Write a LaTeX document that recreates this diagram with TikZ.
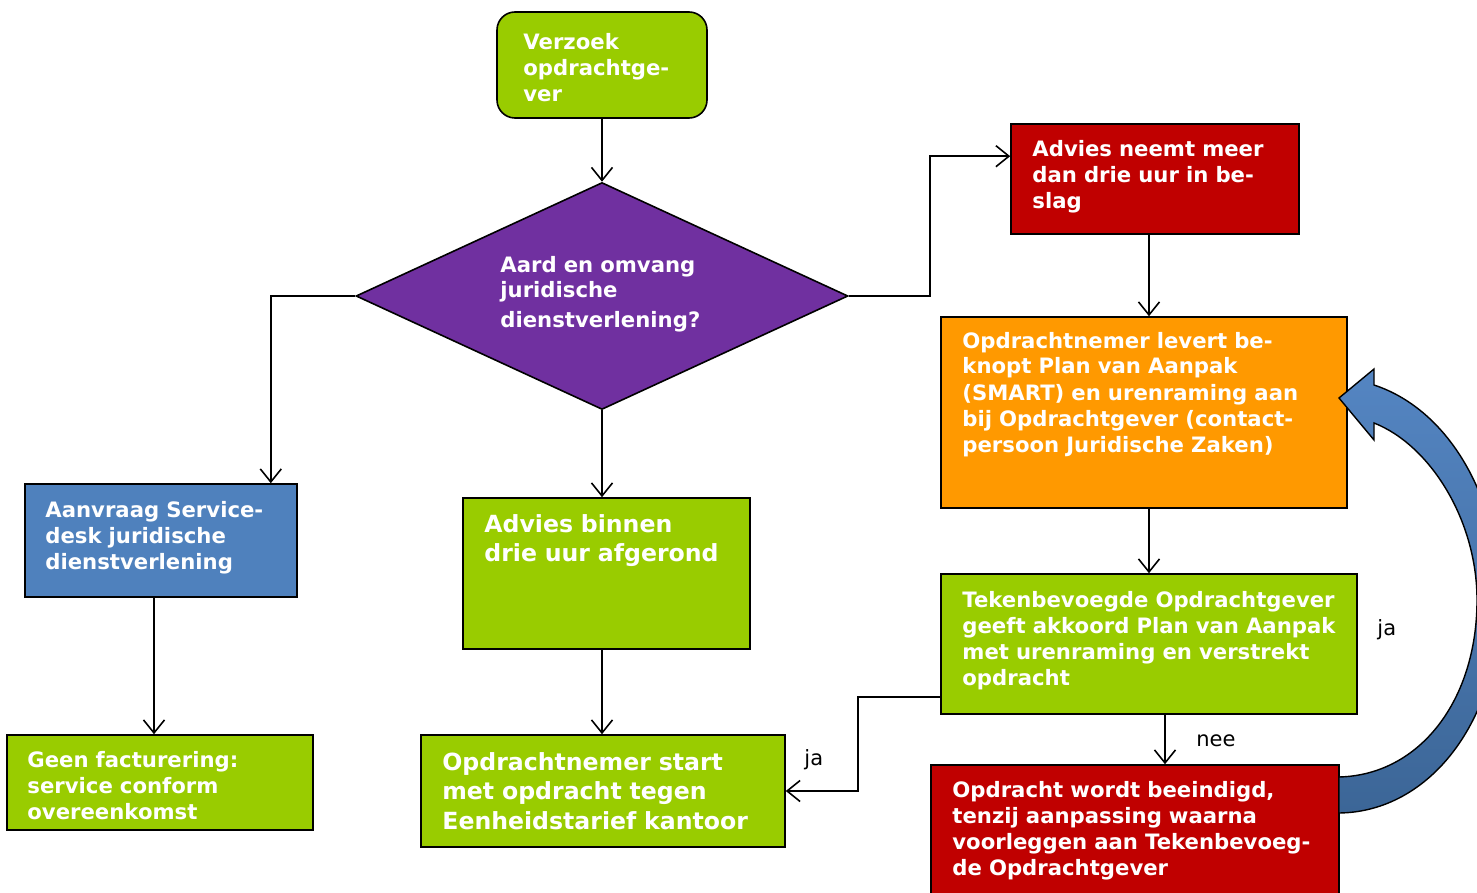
\documentclass[tikz,border=0pt]{standalone}
\usepackage{fontspec}
\setmainfont{DejaVu Sans}
\usetikzlibrary{arrows.meta,calc,fit,shapes.geometric}
\definecolor{cgreen}{HTML}{99CC00}
\definecolor{cpurple}{HTML}{7030A0}
\definecolor{cred}{HTML}{C00000}
\definecolor{corange}{HTML}{FF9900}
\definecolor{cblue}{HTML}{4F81BD}
\definecolor{cbluetop}{HTML}{5485C2}
\definecolor{cbluebot}{HTML}{3C6697}
\tikzset{
  box/.style={draw=black, line width=0.8pt, inner sep=0pt},
  txt/.style={text=white, font=\bfseries\fontsize{10.6}{13}\selectfont, align=left, inner sep=0pt, anchor=base west, text width=220pt},
  bigtxt/.style={txt, font=\bfseries\fontsize{11.8}{14.8}\selectfont},
  lbl/.style={font=\fontsize{10.5}{12}\selectfont, inner sep=0pt, anchor=base west},
  arr/.style={line width=0.8pt, -{Straight Barb[length=6.5pt,width=10.5pt,line width=0.8pt]}},
  ln/.style={line width=0.8pt}
}
\begin{document}
\begin{tikzpicture}[x=0.5pt,y=-0.5pt]
\clip (0,0) rectangle (1477,893);
\fill[white] (0,0) rectangle (1477,893);

% boxes
\node[box, fill=cgreen, rounded corners=9pt, fit={(497,12) (707,118)}] (verzoek) {};
\node[draw=black, line width=0.8pt, fill=cpurple, diamond, aspect=2.167, minimum width=246pt, minimum height=113.5pt, inner sep=0pt] (dia) at (602,296) {};
\node[box, fill=cred, fit={(1011,124) (1299,234)}] (meer) {};
\node[box, fill=corange, fit={(941,317) (1347,508)}] (plan) {};
\node[box, fill=cgreen, fit={(941,574) (1357,714)}] (teken) {};
\node[box, fill=cred, fit={(931,765) (1339,920)}] (stop) {};
\node[box, fill=cblue, fit={(25,484) (297,597)}] (aanvraag) {};
\node[box, fill=cgreen, fit={(7,735) (313,830)}] (geen) {};
\node[box, fill=cgreen, fit={(463,498) (750,649)}] (binnen) {};
\node[box, fill=cgreen, fit={(421,735) (785,847)}] (start) {};

% big curved arrow (from stop back to plan)
\path[draw=black, line width=0.7pt, top color=cbluetop, bottom color=cbluebot]
  (1339,777) .. controls (1420,775) and (1477,700) .. (1477,600)
  .. controls (1477,520) and (1430,445) .. (1374,423)
  -- (1374,440) -- (1339,398) -- (1374,369) -- (1374,385)
  .. controls (1450,410) and (1500,500) .. (1500,600)
  .. controls (1500,720) and (1430,812) .. (1339,813) -- cycle;

% texts
\node[txt] (tverzoek) at (523,50) {Verzoek\\opdrachtge-\\ver};
\node[txt] (tdia) at (500,272) {Aard en omvang\\juridische\\[2pt]dienstverlening?};
\node[txt] (tmeer) at (1032,157) {Advies neemt meer\\dan drie uur in be-\\slag};
\node[txt] (tplan) at (962,348) {Opdrachtnemer levert be-\\knopt Plan van Aanpak\\(SMART) en urenraming aan\\bij Opdrachtgever (contact-\\persoon Juridische Zaken)};
\node[txt] (tteken) at (962,607) {Tekenbevoegde Opdrachtgever\\geeft akkoord Plan van Aanpak\\met urenraming en verstrekt\\opdracht};
\node[txt] (tstop) at (952,797) {Opdracht wordt beeindigd,\\tenzij aanpassing waarna\\voorleggen aan Tekenbevoeg-\\de Opdrachtgever};
\node[txt] (taanvraag) at (45,517) {Aanvraag Service-\\desk juridische\\dienstverlening};
\node[txt] (tgeen) at (27,767) {Geen facturering:\\service conform\\overeenkomst};
\node[bigtxt] (tbinnen) at (484,532) {Advies binnen\\drie uur afgerond};
\node[bigtxt] (tstart) at (442,770) {Opdrachtnemer start\\met opdracht tegen\\Eenheidstarief kantoor};

% labels
\node[lbl] (lja1) at (1377,635) {ja};
\node[lbl] (lnee) at (1196,746) {nee};
\node[lbl] (lja2) at (804,765) {ja};

% connectors
\draw[arr] (verzoek.south -| dia.north) -- (dia.north);
\draw[arr] (dia.west) -| ($(aanvraag.north east)+(-27,0)$);
\draw[arr] (dia.south) -- (dia.south |- binnen.north);
\draw[arr] (dia.east) -- ($(dia.east)+(81,0)$) |- ($(meer.north west)+(0,33)$);
\draw[arr] (meer.south -| 1149,0) -- (plan.north -| 1149,0);
\draw[arr] (plan.south -| 1149,0) -- (teken.north -| 1149,0);
\coordinate (t1) at ($(teken.south)+(16,0)$);
\draw[arr] (t1) -- (t1 |- stop.north);
\coordinate (t2) at ($(teken.south west)+(0,-18)$);
\draw[arr] (t2) -- ++(-82,0) |- (start.east);
\draw[arr] (aanvraag.south -| 154,0) -- (geen.north -| 154,0);
\draw[arr] (dia.south |- binnen.south) -- (dia.south |- start.north);
\end{tikzpicture}
\end{document}
